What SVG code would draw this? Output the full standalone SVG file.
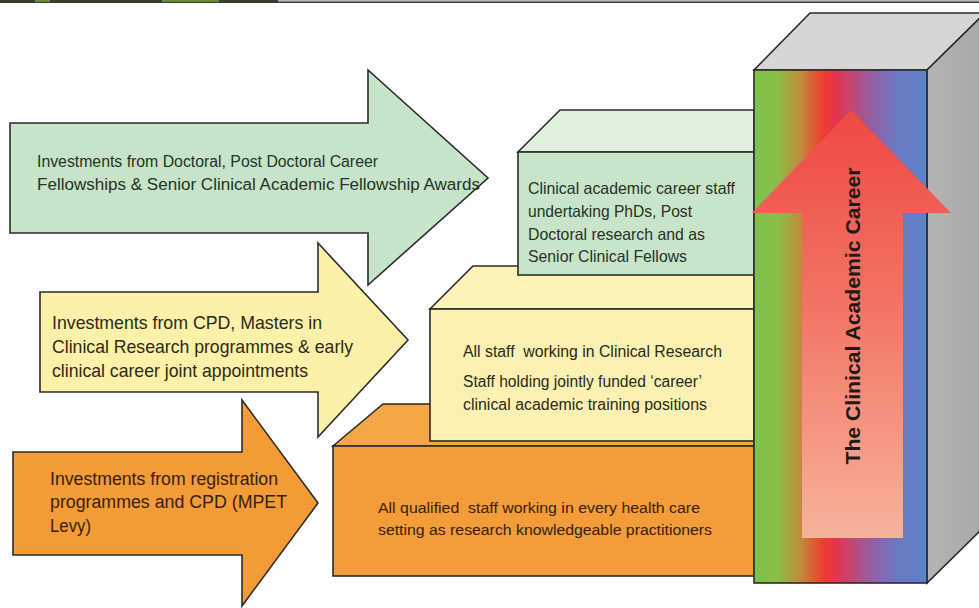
<svg xmlns="http://www.w3.org/2000/svg" width="979" height="608" viewBox="0 0 979 608">
<style>
.edge{stroke:#2b2b2b;stroke-width:1.6;stroke-linejoin:miter}
.t{font-family:"Liberation Sans",Arial,sans-serif;white-space:pre}
.tg{fill:#263226}
.ty{fill:#2e2a16}
.to{fill:#351f08}
</style>
<defs>
<linearGradient id="pillarFront" x1="0" y1="0" x2="1" y2="0">
<stop offset="0" stop-color="#7cc24c"/>
<stop offset="0.14" stop-color="#8cbd46"/>
<stop offset="0.27" stop-color="#c38a3c"/>
<stop offset="0.40" stop-color="#ee3c31"/>
<stop offset="0.48" stop-color="#e33550"/>
<stop offset="0.66" stop-color="#9a5b9c"/>
<stop offset="0.82" stop-color="#6b79c2"/>
<stop offset="1" stop-color="#5b82c7"/>
</linearGradient>
<linearGradient id="bigArrow" x1="0" y1="0" x2="0" y2="1">
<stop offset="0" stop-color="#ee4943"/>
<stop offset="0.45" stop-color="#f27365"/>
<stop offset="1" stop-color="#f7b39a"/>
</linearGradient>
<linearGradient id="pillarSide" x1="0" y1="0" x2="1" y2="0">
<stop offset="0" stop-color="#b4b4b4"/>
<stop offset="1" stop-color="#a8a8a8"/>
</linearGradient>
</defs>

<!-- top strip -->
<rect x="0" y="0" width="979" height="3" fill="#3a3c36"/>
<rect x="35" y="0" width="15" height="2" fill="#6b8a3b"/>
<rect x="162" y="0" width="57" height="2" fill="#6b8a3b"/>
<rect x="278" y="0" width="701" height="1.6" fill="#b8b8b8"/>

<!-- blocks (steps) -->
<g id="block-orange">
<polygon class="edge" points="333,446 383,404 754,404 754,446" fill="#f5a747"/>
<rect class="edge" x="333" y="446" width="421" height="130" fill="#f39c39"/>
<text class="t to" font-size="15.5"><tspan x="378" y="513" textLength="322" lengthAdjust="spacingAndGlyphs">All qualified  staff working in every health care</tspan><tspan x="378" y="535" textLength="334" lengthAdjust="spacingAndGlyphs">setting as research knowledgeable practitioners</tspan></text>
</g>
<g id="block-yellow">
<polygon class="edge" points="430,309 473,266 754,266 754,309" fill="#fbf3b8"/>
<rect class="edge" x="430" y="309" width="324" height="132" fill="#faf1b2"/>
<text class="t ty" font-size="16"><tspan x="463" y="357" textLength="259" lengthAdjust="spacingAndGlyphs">All staff  working in Clinical Research</tspan><tspan x="463" y="387" textLength="239" lengthAdjust="spacingAndGlyphs">Staff holding jointly funded ‘career’</tspan><tspan x="463" y="410" textLength="244" lengthAdjust="spacingAndGlyphs">clinical academic training positions</tspan></text>
</g>
<g id="block-green">
<polygon class="edge" points="518,152 560,110 754,110 754,152" fill="#e1efdf"/>
<rect class="edge" x="518" y="152" width="236" height="123" fill="#c9e5c9"/>
<text class="t tg" font-size="16.5"><tspan x="528" y="194" textLength="207" lengthAdjust="spacingAndGlyphs">Clinical academic career staff</tspan><tspan x="528" y="217" textLength="164" lengthAdjust="spacingAndGlyphs">undertaking PhDs, Post</tspan><tspan x="528" y="240" textLength="177" lengthAdjust="spacingAndGlyphs">Doctoral research and as</tspan><tspan x="528" y="262" textLength="159" lengthAdjust="spacingAndGlyphs">Senior Clinical Fellows</tspan></text>
</g>

<!-- input arrows -->
<g id="arrow-orange">
<polygon class="edge" points="13,452 242,452 242,400 318,503 242,606 242,555 13,555" fill="#f39b37"/>
<text class="t to" font-size="18"><tspan x="50" y="485" textLength="228" lengthAdjust="spacingAndGlyphs">Investments from registration</tspan><tspan x="50" y="508" textLength="237" lengthAdjust="spacingAndGlyphs">programmes and CPD (MPET</tspan><tspan x="50" y="532" textLength="41" lengthAdjust="spacingAndGlyphs">Levy)</tspan></text>
</g>
<g id="arrow-yellow">
<polygon class="edge" points="40,292 318,292 318,243 408,340 318,437 318,392 40,392" fill="#fbf1a8"/>
<text class="t ty" font-size="19"><tspan x="52" y="329" textLength="270" lengthAdjust="spacingAndGlyphs">Investments from CPD, Masters in</tspan><tspan x="52" y="353" textLength="301" lengthAdjust="spacingAndGlyphs">Clinical Research programmes &amp; early</tspan><tspan x="52" y="377" textLength="256" lengthAdjust="spacingAndGlyphs">clinical career joint appointments</tspan></text>
</g>
<g id="arrow-green">
<polygon class="edge" points="10,123 368,123 368,70 488,178 368,285 368,233 10,233" fill="#c7e4c8"/>
<text class="t tg" font-size="16"><tspan x="37" y="167" textLength="341" lengthAdjust="spacingAndGlyphs">Investments from Doctoral, Post Doctoral Career</tspan><tspan x="37" y="190" textLength="443" lengthAdjust="spacingAndGlyphs">Fellowships &amp; Senior Clinical Academic Fellowship Awards</tspan></text>
</g>

<!-- pillar -->
<g id="pillar">
<polygon class="edge" points="754,70 810,13 985,13 927,70" fill="#d6d6d6"/>
<polygon class="edge" points="927,70 985,13 985,526 927,583" fill="url(#pillarSide)"/>
<rect class="edge" x="754" y="70" width="173" height="513" fill="url(#pillarFront)"/>
</g>
<g id="career-arrow">
<polygon points="851,110 951,213 903,213 903,538 802,538 802,213 752,213" fill="url(#bigArrow)"/>
<text class="t" font-size="21" font-weight="bold" fill="#1e1a1a" text-anchor="middle" transform="translate(860,316) rotate(-90)" textLength="297" lengthAdjust="spacingAndGlyphs">The Clinical Academic Career</text>
</g>
</svg>
